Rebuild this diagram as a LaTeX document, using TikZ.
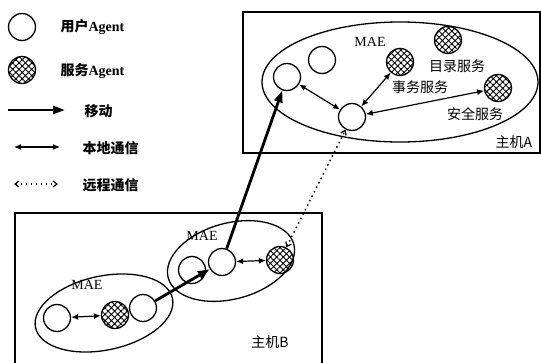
\documentclass[tikz,border=0pt]{standalone}
\usepackage{fontspec}
\setmainfont{Liberation Serif}
\newfontfamily\cjk{Noto Sans CJK SC}
\usetikzlibrary{positioning, shapes.geometric, arrows.meta, patterns.meta}

\begin{document}
\begin{tikzpicture}[x=1pt, y=-1pt,
    user/.style={draw, circle, line width=1.3pt, minimum size=27pt, inner sep=0pt},
    service/.style={user, pattern={Hatch[angle=45, distance=4.5pt, line width=0.9pt]}},
    mae/.style={draw, ellipse, line width=1.3pt, inner sep=0pt},
    host/.style={draw, line width=1.3pt},
    move/.style={-{Triangle[length=12pt, width=8pt]}, line width=2.8pt},
    local/.style={{Latex[length=7pt, width=6pt]}-{Latex[length=7pt, width=6pt]}, line width=1.2pt},
    remote/.style={{Straight Barb[length=4pt, width=6pt, line width=1.2pt]}-{Straight Barb[length=4pt, width=6pt, line width=1.2pt]}, dash pattern=on 1.5pt off 3.5pt, line width=1.4pt},
    txt/.style={font=\cjk\fontsize{14}{16}\selectfont},
    legtxt/.style={font=\cjk\bfseries\fontsize{14}{16}\selectfont, anchor=west},
    maetxt/.style={font=\fontsize{14}{16}\selectfont}]
  \useasboundingbox (0,0) rectangle (541,362);

  % Legend
  \node[user] (lgUser) at (22,27) {};
  \node[legtxt] (lgUserTxt) at (57,27) {用户\textrm{\bfseries Agent}};
  \node[service] (lgServ) at (22,70) {};
  \node[legtxt] (lgServTxt) at (57,71) {服务\textrm{\bfseries Agent}};
  \coordinate (lgMoveA) at (8,110);
  \coordinate (lgMoveB) at (65,110);
  \draw[move] (lgMoveA) -- (lgMoveB);
  \node[legtxt] (lgMoveTxt) at (81,111) {移动};
  \coordinate (lgLocalA) at (14,147);
  \coordinate (lgLocalB) at (60,147);
  \draw[local] (lgLocalA) -- (lgLocalB);
  \node[legtxt] (lgLocalTxt) at (79,148) {本地通信};
  \coordinate (lgRemoteA) at (14,184);
  \coordinate (lgRemoteB) at (58,184);
  \draw[remote] (lgRemoteA) -- (lgRemoteB);
  \node[legtxt] (lgRemoteTxt) at (79,185) {远程通信};

  % Host A
  \node[host, minimum width=297pt, minimum height=141pt, inner sep=0pt] (hostA) at (391.5,82.5) {};
  \node[txt] (hostATxt) at (514,142) {主机A};
  \node[mae, minimum width=276pt, minimum height=120pt] (maeA) at (400,82) {};
  \node[maetxt] (maeATxt) at (370,42) {MAE};

  \node[user] (userA1) at (287,77) {};
  \node[user] (userA2) at (322,60) {};
  \node[user] (center) at (352,117) {};
  \node[service] (trans) at (400,62) {};
  \node[service] (dir) at (448,40) {};
  \node[service] (sec) at (498,88) {};
  \node[txt] (dirTxt) at (457,66) {目录服务};
  \node[txt] (transTxt) at (420,87) {事务服务};
  \node[txt] (secTxt) at (475,114) {安全服务};

  \draw[local] (center) -- (userA1);
  \draw[local] (center) -- (trans);
  \draw[local] (center) -- (sec);

  % Host B
  \draw[host] (15,365) |- (322,213) -- (322,365);
  \node[txt] (hostBTxt) at (270,342) {主机B};
  \node[mae, minimum width=140pt, minimum height=74pt, rotate=12] (maeB1) at (104,313) {};
  \node[maetxt] (maeB1Txt) at (87,285) {MAE};
  \node[mae, minimum width=130pt, minimum height=76pt, rotate=15] (maeB2) at (231,261) {};
  \node[maetxt] (maeB2Txt) at (202,236) {MAE};

  \node[user] (userB1) at (57,318) {};
  \node[service] (servB1) at (115,315) {};
  \node[user] (moverB1) at (143,308) {};
  \node[user] (userB2) at (192,270) {};
  \node[user] (moverB2) at (222,262) {};
  \node[service] (servB2) at (280,260) {};

  \draw[local] (userB1) -- (servB1);
  \draw[local] (moverB2) -- (servB2);

  % Migration and remote link
  \draw[move] (moverB1) -- (moverB2);
  \draw[move] (moverB2) -- (userA1);
  \draw[remote] (servB2) -- (center);
\end{tikzpicture}
\end{document}
